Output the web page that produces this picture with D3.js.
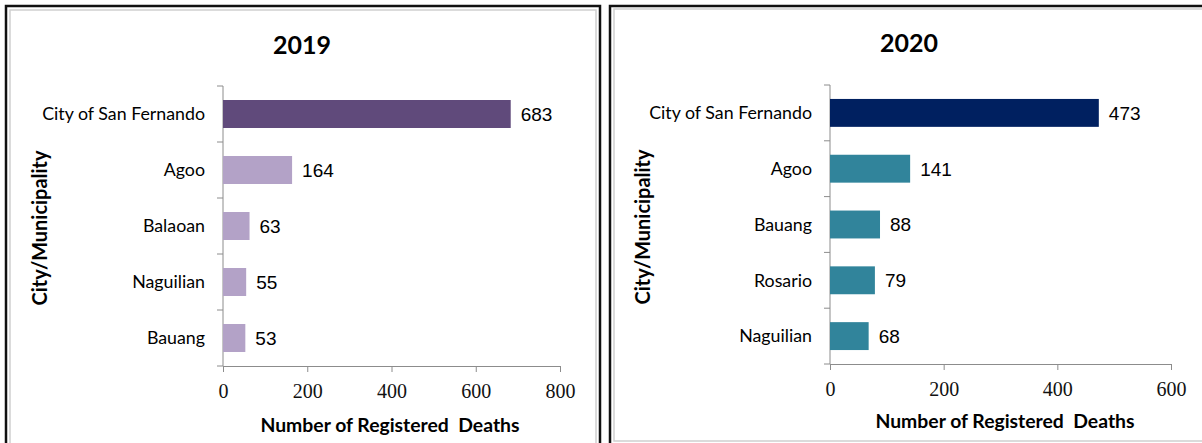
<!DOCTYPE html>
<html>
<head>
<meta charset="utf-8">
<script src="https://cdn.jsdelivr.net/npm/d3@7"></script>
<style>
  html, body { margin: 0; padding: 0; background: #fff; }
  svg { display: block; }
</style>
</head>
<body>
<svg id="chart" width="1202" height="443"></svg>
<script>
// ---- data ----
const categories2019 = ["City of San Fernando", "Agoo", "Balaoan", "Naguilian", "Bauang"];
const values2019 = [683, 164, 63, 55, 53];
const ticks2019 = [0, 200, 400, 600, 800];

const categories2020 = ["City of San Fernando", "Agoo", "Bauang", "Rosario", "Naguilian"];
const values2020 = [473, 141, 88, 79, 68];
const ticks2020 = [0, 200, 400, 600];

const titles = ["2019", "2020"];
const yAxisTitle = "City/Municipality";
const xAxisTitle = "Number of Registered\u00A0 Deaths";

// ---- layout ----
const panels = [
  { title: titles[0], cats: categories2019, vals: values2019, ticks: ticks2019,
    x0: 223, x1: 560, yTop: 86, yBot: 366,
    titleX: 302, titleY: 45, ylabX: 40, ylabY: 228, xlabX: 390, xlabY: 425,
    colors: ["#604a7b", "#b3a2c7"],
    frame: { x: 6, y: 6, w: 594, h: 470, ix: 10, iy: 10, iw: 586, ih: 470 } },
  { title: titles[1], cats: categories2020, vals: values2020, ticks: ticks2020,
    x0: 830, x1: 1171, yTop: 85, yBot: 364,
    titleX: 909, titleY: 43, ylabX: 643, ylabY: 227, xlabX: 1005, xlabY: 421,
    colors: ["#002060", "#31849b"],
    frame: { x: 610, y: 6, w: 620, h: 470, ix: 614, iy: 9, iw: 620, ih: 432 } }
];

const svg = d3.select("#chart");
const axisColor = "#8c8c8c";
const sansLabel = "Lato, 'Open Sans', sans-serif";

function fitWidth(sel, target) {
  const w = sel.node().getComputedTextLength();
  const fs = parseFloat(sel.attr("font-size"));
  sel.attr("font-size", (fs * target / w).toFixed(2));
}

panels.forEach(p => {
  const g = svg.append("g");
  const f = p.frame;
  g.append("rect").attr("x", f.x).attr("y", f.y).attr("width", f.w).attr("height", f.h)
    .attr("fill", "#fff").attr("stroke", "#111").attr("stroke-width", 2.5);
  g.append("rect").attr("x", f.ix).attr("y", f.iy).attr("width", f.iw).attr("height", f.ih)
    .attr("fill", "none").attr("stroke", "#cfcfcf").attr("stroke-width", 1.5);

  const x = d3.scaleLinear().domain([0, p.ticks[p.ticks.length - 1]]).range([p.x0, p.x1]);
  const y = d3.scaleBand().domain(p.cats).range([p.yTop, p.yBot]).paddingInner(0.5).paddingOuter(0.25);
  const step = y.step();

  // x axis
  const xa = g.append("g").attr("transform", `translate(0,${p.yBot})`)
    .call(d3.axisBottom(x).tickValues(p.ticks).tickSize(6).tickSizeOuter(6).tickPadding(12));
  xa.selectAll("path, line").attr("stroke", axisColor);
  xa.selectAll("text").attr("font-family", "'Liberation Serif', 'DejaVu Serif', serif")
    .attr("font-size", 20).attr("fill", "#111");

  // y axis (line + boundary ticks)
  g.append("line").attr("x1", p.x0).attr("x2", p.x0).attr("y1", p.yTop).attr("y2", p.yBot)
    .attr("stroke", axisColor);
  const bounds = p.cats.map(c => y(c) - step * 0.25).concat([p.yBot]);
  g.selectAll(".ytick").data(bounds).join("line")
    .attr("x1", p.x0 - 6).attr("x2", p.x0).attr("y1", d => d).attr("y2", d => d)
    .attr("stroke", axisColor);

  // bars
  g.selectAll(".bar").data(p.cats).join("rect")
    .attr("x", p.x0)
    .attr("y", c => y(c))
    .attr("width", (c, i) => x(p.vals[i]) - p.x0)
    .attr("height", y.bandwidth())
    .attr("fill", (c, i) => i === 0 ? p.colors[0] : p.colors[1]);

  // value labels
  g.selectAll(".val").data(p.cats).join("text")
    .attr("x", (c, i) => x(p.vals[i]) + 10)
    .attr("y", c => y(c) + y.bandwidth() / 2)
    .attr("dy", "0.36em")
    .attr("font-family", "'Liberation Sans', Arial, sans-serif")
    .attr("font-size", 19).attr("fill", "#000")
    .text((c, i) => p.vals[i]);

  // category labels
  const catLabels = g.selectAll(".cat").data(p.cats).join("text")
    .attr("x", p.x0 - 18)
    .attr("y", c => y(c) + y.bandwidth() / 2)
    .attr("dy", "0.35em")
    .attr("text-anchor", "end")
    .attr("font-family", sansLabel)
    .attr("font-size", 16).attr("fill", "#000")
    .text(c => c);
  const longest = catLabels.filter((d, i) => i === 0);
  fitWidth(longest, 163);
  catLabels.attr("font-size", longest.attr("font-size"));

  // title
  const t = g.append("text").attr("x", p.titleX).attr("y", p.titleY).attr("dy", "0.36em")
    .attr("text-anchor", "middle").attr("font-family", sansLabel).attr("font-weight", 700)
    .attr("font-size", 25).attr("fill", "#000").text(p.title);
  fitWidth(t, 58);

  // y axis title
  const yl = g.append("text")
    .attr("transform", `translate(${p.ylabX},${p.ylabY}) rotate(-90)`)
    .attr("dy", "0.35em").attr("text-anchor", "middle")
    .attr("font-family", sansLabel).attr("font-weight", 700)
    .attr("font-size", 18).attr("fill", "#000").text(yAxisTitle);
  fitWidth(yl, 155);

  // x axis title
  const xl = g.append("text").attr("x", p.xlabX).attr("y", p.xlabY).attr("dy", "0.35em")
    .attr("text-anchor", "middle").attr("font-family", sansLabel).attr("font-weight", 700)
    .attr("font-size", 17).attr("fill", "#000").text(xAxisTitle);
  fitWidth(xl, 259);
});
</script>
</body>
</html>
